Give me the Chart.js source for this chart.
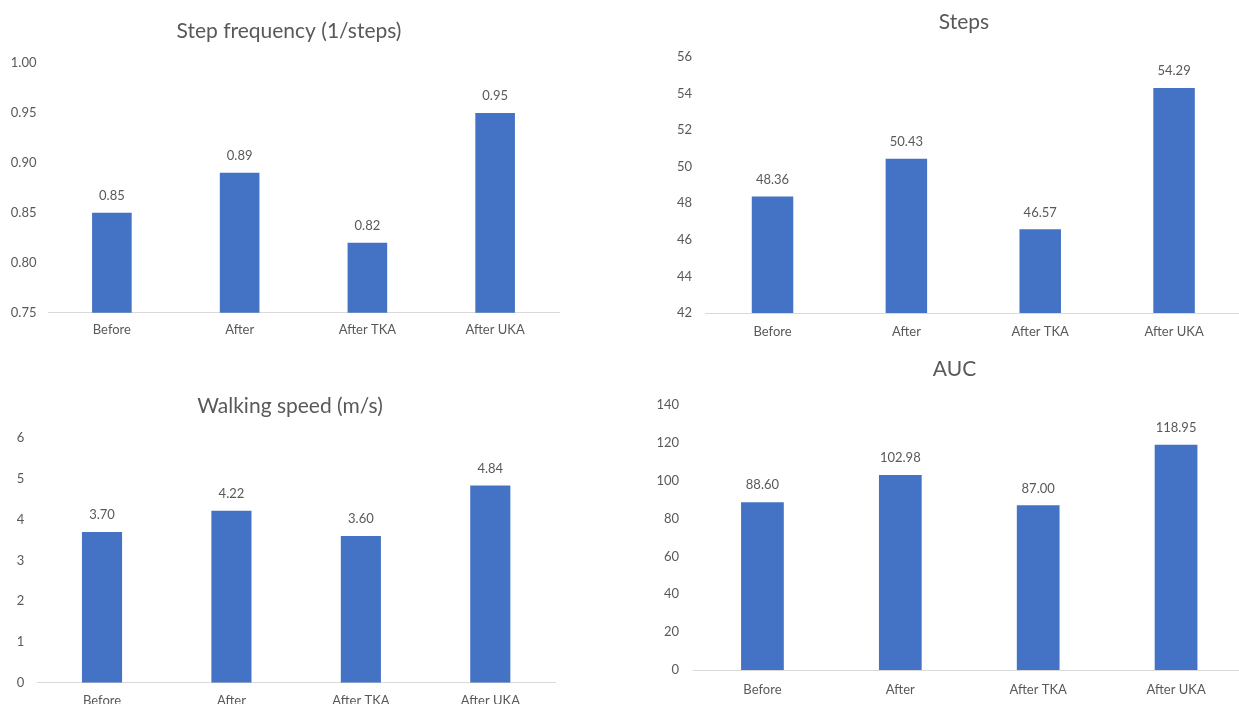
<!DOCTYPE html>
<html>
<head>
<meta charset="utf-8">
<title>Gait measures</title>
<script src="https://cdn.jsdelivr.net/npm/chart.js@4.4.1/dist/chart.umd.min.js"></script>
<style>
  html, body { margin: 0; padding: 0; background: #ffffff; width: 1239px; height: 704px; overflow: hidden; }
  .panel { position: absolute; }
  .panel canvas { display: block; }
</style>
</head>
<body>
<div class="panel" id="p1"><canvas id="c1"></canvas></div>
<div class="panel" id="p2"><canvas id="c2"></canvas></div>
<div class="panel" id="p3"><canvas id="c3"></canvas></div>
<div class="panel" id="p4"><canvas id="c4"></canvas></div>
<script>
// Categories shared by all four panels
const categories = ['Before', 'After', 'After TKA', 'After UKA'];

// Series values
const stepFrequency = [0.85, 0.89, 0.82, 0.95];
const steps = [48.36, 50.43, 46.57, 54.29];
const walkingSpeed = [3.70, 4.22, 3.60, 4.84];
const auc = [88.60, 102.98, 87.00, 118.95];

// Y-axis tick labels
const stepFrequencyTicks = [0.75, 0.80, 0.85, 0.90, 0.95, 1.00];
const stepsTicks = [42, 44, 46, 48, 50, 52, 54, 56];
const walkingSpeedTicks = [0, 1, 2, 3, 4, 5, 6];
const aucTicks = [0, 20, 40, 60, 80, 100, 120, 140];

// Panel titles
const titles = ['Step frequency (1/steps)', 'Steps', 'Walking speed (m/s)', 'AUC'];

const FONT = 'Lato, "Open Sans", sans-serif';
const TEXT = '#595959';
const BAR = '#4472C4';
const AXIS = '#D9D9D9';

// Draws the numeric value above each bar
const valueLabels = {
  id: 'valueLabels',
  afterDatasetsDraw(chart) {
    const ctx = chart.ctx;
    const meta = chart.getDatasetMeta(0);
    const values = chart.data.datasets[0].data;
    ctx.save();
    ctx.font = '13px ' + FONT;
    ctx.fillStyle = TEXT;
    ctx.textAlign = 'center';
    ctx.textBaseline = 'middle';
    meta.data.forEach((bar, i) => {
      ctx.fillText(values[i].toFixed(2), bar.x, bar.y - 17);
    });
    ctx.restore();
  }
};

// Draws the panel heading at a set point
const panelTitle = {
  id: 'panelTitle',
  afterDraw(chart, args, opts) {
    const ctx = chart.ctx;
    ctx.save();
    ctx.font = opts.size + 'px ' + FONT;
    ctx.fillStyle = TEXT;
    ctx.textAlign = 'center';
    ctx.textBaseline = 'middle';
    ctx.fillText(opts.text, opts.x, opts.y);
    ctx.restore();
  }
};

function makePanel(n, values, ticks, decimals, title, lay) {
  const wrap = document.getElementById('p' + n);
  const canvas = document.getElementById('c' + n);
  wrap.style.left = lay.left + 'px';
  wrap.style.top = lay.top + 'px';
  canvas.width = lay.w;
  canvas.height = lay.h;
  canvas.style.width = lay.w + 'px';
  canvas.style.height = lay.h + 'px';

  new Chart(canvas, {
    type: 'bar',
    data: {
      labels: categories,
      datasets: [{
        data: values,
        backgroundColor: BAR,
        borderWidth: 0,
        barPercentage: 0.31,
        categoryPercentage: 1
      }]
    },
    options: {
      responsive: false,
      animation: false,
      devicePixelRatio: 1,
      layout: { padding: { left: 0, right: lay.padRight, top: lay.padTop, bottom: 0 } },
      plugins: {
        legend: { display: false },
        tooltip: { enabled: false },
        title: { display: false },
        panelTitle: { text: title, x: lay.titleX, y: lay.titleY, size: 21 }
      },
      scales: {
        x: {
          grid: { display: false, drawTicks: false },
          border: { display: true, color: AXIS, width: 1 },
          ticks: { color: TEXT, font: { family: FONT, size: 13 }, padding: lay.xPad, maxRotation: 0, autoSkip: false },
          afterFit(s) { s.height = lay.xHeight; }
        },
        y: {
          min: ticks[0],
          max: ticks[ticks.length - 1],
          grid: { display: false, drawTicks: false },
          border: { display: false },
          ticks: {
            color: TEXT,
            font: { family: FONT, size: 13 },
            padding: lay.yPad,
            callback: (v) => Number(v).toFixed(decimals)
          },
          afterBuildTicks(s) { s.ticks = ticks.map(v => ({ value: v })); },
          afterFit(s) { s.width = lay.yWidth; }
        }
      }
    },
    plugins: [valueLabels, panelTitle]
  });
}

makePanel(1, stepFrequency, stepFrequencyTicks, 2, titles[0],
  { left: 0, top: 0, w: 575, h: 350, padTop: 63, padRight: 16, yWidth: 48, xHeight: 37.3, yPad: 11.5, xPad: 9.5, titleX: 289, titleY: 31.7 });
makePanel(2, steps, stepsTicks, 0, titles[1],
  { left: 620, top: 0, w: 625, h: 350, padTop: 56.7, padRight: 4, yWidth: 85.6, xHeight: 37, yPad: 13.6, xPad: 11, titleX: 344, titleY: 22.7 });
makePanel(3, walkingSpeed, walkingSpeedTicks, 0, titles[2],
  { left: 0, top: 355, w: 575, h: 360, padTop: 83.3, padRight: 20, yWidth: 37.3, xHeight: 32.3, yPad: 13, xPad: 10, titleX: 290, titleY: 51.7 });
makePanel(4, auc, aucTicks, 0, titles[3],
  { left: 620, top: 355, w: 630, h: 360, padTop: 50, padRight: 5, yWidth: 73.5, xHeight: 45, yPad: 14.5, xPad: 12.5, titleX: 334.5, titleY: 14 });
</script>
</body>
</html>
